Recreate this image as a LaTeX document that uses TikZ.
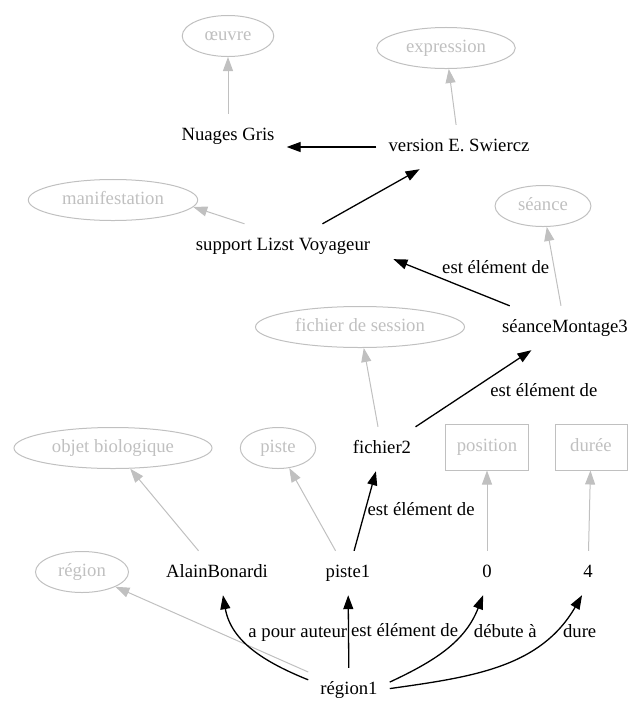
\documentclass[tikz,border=0pt]{standalone}
\usepackage{fontspec}
\setmainfont{Liberation Serif}
\usetikzlibrary{arrows.meta,shapes.geometric}
\definecolor{typegray}{RGB}{192,192,192}
\begin{document}
\begin{tikzpicture}[x=1pt,y=-1pt,font=\fontsize{18.7}{22}\selectfont,
    inst/.style={inner xsep=12pt,inner ysep=0pt,text height=13pt,text depth=4pt,minimum height=44pt},
    cls/.style={ellipse,draw=typegray,text=typegray,line width=1pt,inner xsep=9pt,inner ysep=6pt,text height=13pt,text depth=4pt},
    clsbox/.style={draw=typegray,text=typegray,line width=1pt,inner xsep=11pt,text height=13pt,text depth=4pt,minimum width=72pt,minimum height=46pt},
    rel/.style={-{Triangle[length=14pt,width=10pt]},line width=1.3pt},
    typ/.style={-{Triangle[length=14pt,width=10pt]},draw=typegray,line width=1pt},
    lbl/.style={inner sep=2pt,text height=13pt,text depth=4pt}]
\useasboundingbox (0,0) rectangle (634,702);

\node[cls] (oeuvre) at (228,36) {œuvre};
\node[cls] (expression) at (446,48) {expression};
\node[inst] (nuages) at (228,136) {Nuages Gris};
\node[inst] (version) at (459,147) {version E. Swiercz};
\node[cls] (manif) at (113,200) {manifestation};
\node[inst] (support) at (283,246) {support Lizst Voyageur};
\node[cls] (seance) at (543,206) {séance};
\node[cls] (session) at (360,327) {fichier de session};
\node[inst] (montage) at (565,328) {séanceMontage3};
\node[cls] (objbio) at (113,448) {objet biologique};
\node[cls] (piste) at (278,448) {piste};
\node[inst] (fichier) at (382,449) {fichier2};
\node[clsbox] (position) at (487,447) {position};
\node[clsbox] (duree) at (591,447) {durée};
\node[cls] (region) at (82,572) {région};
\node[inst] (alain) at (217,573) {AlainBonardi};
\node[inst] (piste1) at (348,573) {piste1};
\node[inst] (zero) at (487,573) {0};
\node[inst] (four) at (588,573) {4};
\node[inst] (region1) at (349,690) {région1};

\draw[typ] (nuages) -- (oeuvre);
\draw[typ] (version) -- (expression);
\draw[rel] (version.west) -- (nuages.east |- version.west);
\draw[rel] (support) -- (version);
\draw[typ] (support.150) -- (manif.-5);
\draw[typ] (montage) -- (seance);
\draw[rel,shorten >=12pt] (montage) -- node[lbl,pos=.11,above=20pt] {est élément de} (support.-5);
\draw[typ] (fichier) -- (session);
\draw[rel] (fichier) -- node[lbl,pos=.45,right=20pt] {est élément de} (montage);
\draw[typ] (alain) -- (objbio);
\draw[typ] (piste1) -- (piste);
\draw[rel] (piste1) -- node[lbl,right] {est élément de} (fichier);
\draw[typ] (zero) -- (position);
\draw[typ] (four) -- (duree);
\draw[typ] (region1) -- (region);
\draw[rel] (region1.166) to[out=158,in=-80] node[lbl,pos=.67,right=7pt] {a pour auteur} (alain.-75);
\draw[rel] (region1) -- node[lbl,right] {est élément de} (piste1);
\draw[rel] (region1.11) to[out=25,in=-111] node[lbl,pos=.67,right=10pt] {débute à} (zero.-100);
\draw[rel] (region1.2) to[out=8,in=-120] node[lbl,pos=.79,right=8pt] {dure} (four.-105);
\end{tikzpicture}
\end{document}
